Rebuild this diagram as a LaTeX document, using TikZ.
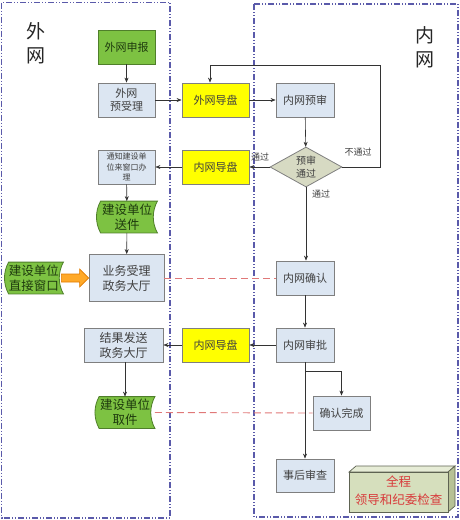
\documentclass[tikz,border=0pt]{standalone}
\usepackage{fontspec}
\newfontfamily\cjk{Noto Sans CJK SC}
\usetikzlibrary{shapes.geometric,arrows.meta,backgrounds,calc}
\definecolor{boxblue}{HTML}{DCE6F2}
\definecolor{boxgrey}{HTML}{7F7F7F}
\definecolor{txtgrey}{HTML}{404040}
\definecolor{ylw}{HTML}{FFFF00}
\definecolor{grn}{HTML}{7DC242}
\definecolor{grnborder}{HTML}{4F7F2A}
\definecolor{grntxt}{HTML}{1E3A0E}
\definecolor{diafill}{HTML}{D7DAC3}
\definecolor{frame}{HTML}{5A5AAA}
\definecolor{reddash}{HTML}{E07878}
\definecolor{orng}{HTML}{FFA928}
\definecolor{orngborder}{HTML}{E07A00}
\definecolor{cubefront}{HTML}{D6DFBD}
\definecolor{cubetop}{HTML}{E6ECD6}
\definecolor{cubeside}{HTML}{B7C196}
\definecolor{cubeborder}{HTML}{5E6352}
\definecolor{redtxt}{HTML}{D83A3A}
\tikzset{
  base/.style={font=\cjk\fontsize{11}{13}\selectfont, align=center, inner sep=1pt, line width=0.8pt},
  bluebox/.style={base, draw=boxgrey, fill=boxblue, text=txtgrey, minimum width=58pt, minimum height=34pt},
  yellowbox/.style={base, draw=boxgrey, fill=ylw, text=txtgrey, minimum width=67pt, minimum height=34pt},
  greenbox/.style={base, draw=grnborder, fill=grn, text=grntxt, minimum width=57pt, minimum height=34pt},
  tapebox/.style={base, font=\cjk\fontsize{12.5}{15}\selectfont, text=grntxt, minimum width=60pt, minimum height=31pt},
  tapeshape/.style={draw=grnborder, fill=grn, line width=0.8pt},
  decision/.style={base, font=\cjk\fontsize{10}{13}\selectfont, shape=diamond, aspect=1.8, draw=boxgrey, fill=diafill, text=txtgrey, minimum width=72pt, minimum height=40pt},
  flow/.style={draw=black!80, line width=0.6pt, -{Stealth[length=5pt,width=4pt]}},
  edgelabel/.style={font=\cjk\fontsize{9}{11}\selectfont, text=txtgrey},
  zonelabel/.style={font=\cjk\fontsize{19}{24}\selectfont, text=black!85, align=center},
  zone/.style={draw=frame, line width=1.1pt, dash pattern=on 6pt off 2pt on 1pt off 2pt on 1pt off 2pt},
  linkdash/.style={draw=reddash, line width=0.9pt, dash pattern=on 7pt off 4pt},
}
\begin{document}
\begin{tikzpicture}[x=1pt,y=-1pt]
\useasboundingbox (0,0) rectangle (460,520);
% zones
\draw[zone] (1.5,2.5) rectangle (170,518);
\draw[zone] (254,4) rectangle (458,517);
\node[zonelabel] (wlab) at (36,43) {外\\网};
\node[zonelabel] (nlab) at (425,47) {内\\网};

% nodes
\node[greenbox] (sb) at (126.5,47) {外网申报};
\node[bluebox, minimum width=57pt] (ysl) at (126.5,100) {外网\\预受理};
\node[yellowbox] (wdp) at (215.5,100) {外网导盘};
\node[bluebox] (nys) at (305,100) {内网预审};
\node[decision] (dia) at (306,167) {预审\\通过};
\node[yellowbox] (ndpa) at (215.5,167) {内网导盘};
\node[bluebox, minimum width=57pt, font=\cjk\fontsize{8}{10.5}\selectfont] (tz) at (126.5,167) {通知建设单\\位来窗口办\\理};
\node[tapebox] (sj) at (127,217) {建设单位\\送件};
\node[bluebox, minimum width=75pt, minimum height=47pt, font=\cjk\fontsize{12}{15}\selectfont] (ywsl) at (126.5,278) {业务受理\\政务大厅};
\node[tapebox, minimum width=58pt] (zj) at (34,278) {建设单位\\直接窗口};
\node[bluebox] (nwqr) at (305,278) {内网确认};
\node[bluebox] (nwsp) at (305,345) {内网审批};
\node[yellowbox] (ndpb) at (215.5,345) {内网导盘};
\node[bluebox, minimum width=79pt, font=\cjk\fontsize{12}{15}\selectfont] (jgfs) at (123.5,345) {结果发送\\政务大厅};
\node[tapebox, minimum width=59pt] (qj) at (125,412.5) {建设单位\\取件};
\node[bluebox, minimum width=57pt] (qrwc) at (341.5,413) {确认完成};
\node[bluebox, minimum height=33pt] (shsc) at (305,475.5) {事后审查};

% tape shapes
\begin{scope}[on background layer]
\foreach \n in {sj,zj,qj}{
  \path[tapeshape] ([xshift=4pt]\n.north west) -- (\n.north east)
    .. controls +(-5.5,10) and +(-5.5,-10) .. (\n.south east)
    -- ([xshift=4pt]\n.south west)
    .. controls +(-5.5,-10) and +(-5.5,10) .. ([xshift=4pt]\n.north west) -- cycle;
}
\end{scope}

% 3D box
\draw[cubeborder, fill=cubetop, line width=0.7pt] (349,472) -- (356,466) -- (455,466) -- (448,472) -- cycle;
\draw[cubeborder, fill=cubeside, line width=0.7pt] (448,472) -- (455,466) -- (455,506) -- (448,512) -- cycle;
\draw[cubeborder, fill=cubefront, line width=0.7pt] (349,472) rectangle (448,512);
\node[base, font=\cjk\fontsize{12.5}{18}\selectfont, text=redtxt] (qc) at (398.5,491) {全程\\领导和纪委检查};

% connectors
\draw[flow] (sb) -- (ysl);
\draw[flow] (ysl) -- (wdp);
\draw[flow] (wdp) -- (nys);
\draw[flow] (nys) -- (dia);
\draw[flow] (dia.east) -- (380,167) -- (380,65) -- (210,65) -- ([xshift=-5.5pt]wdp.north);
\node[edgelabel] (lbl1) at (358,152) {不通过};
\draw[flow] (dia.west) -- (ndpa.east);
\node[edgelabel] (lbl2) at (260,157) {通过};
\draw[flow] (ndpa) -- (tz);
\draw[flow] (tz) -- (sj);
\draw[flow] (sj) -- (ywsl);
\draw[flow] (dia.south) -- (nwqr.north -| dia.south);
\node[edgelabel] (lbl3) at (321,194) {通过};
\draw[flow] (nwqr) -- (nwsp);
\draw[flow] (nwsp) -- (ndpb);
\draw[flow] (ndpb) -- (jgfs);
\draw[flow] (jgfs.south -| qj.north) -- (qj.north);
\draw[flow] (nwsp) -- (shsc);
\coordinate (br) at (305,371);
\draw[flow] (br) -- (br -| qrwc.north) -- (qrwc.north);

% orange arrow
\draw[fill=orng, draw=orngborder, line width=0.6pt]
  ($(zj.east)+(-2,-4)$) -- ($(ywsl.west)+(-9,-4)$) -- ($(ywsl.west)+(-9,-9)$) -- (ywsl.west)
  -- ($(ywsl.west)+(-9,9)$) -- ($(ywsl.west)+(-9,4)$) -- ($(zj.east)+(-2,4)$) -- cycle;

% red dashed links
\draw[linkdash] (ywsl.east) -- (nwqr.west);
\draw[linkdash] (qj.east) -- (qrwc.west);
\end{tikzpicture}
\end{document}
